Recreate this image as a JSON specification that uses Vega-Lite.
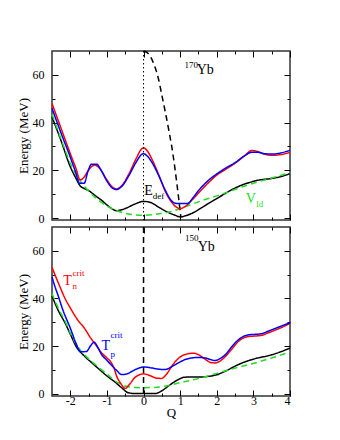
{
  "$schema": "https://vega.github.io/schema/vega-lite/v6.json",
  "padding": {"left": 16, "top": 47, "right": 5, "bottom": 5},
  "spacing": 0,
  "config": {
    "view": {"stroke": "#333333", "strokeWidth": 1.5},
    "font": "Liberation Serif",
    "axis": {"domain": false, "grid": false, "labelFont": "Liberation Serif", "labelFontSize": 12, "labelColor": "black", "titleFont": "Liberation Serif", "titleFontSize": 13, "titleFontWeight": "normal", "titleColor": "black", "tickColor": "black", "tickWidth": 1}
  },
  "datasets": {
    "top": [
      {"series":"E_def","Q":-2.5,"E":42.4},{"series":"E_def","Q":-2.25,"E":32.3},{"series":"E_def","Q":-2.0,"E":21.5},{"series":"E_def","Q":-1.85,"E":16.8},{"series":"E_def","Q":-1.73,"E":13.5},{"series":"E_def","Q":-1.6,"E":12.3},{"series":"E_def","Q":-1.5,"E":11.5},{"series":"E_def","Q":-1.3,"E":9.2},{"series":"E_def","Q":-1.15,"E":7.5},{"series":"E_def","Q":-0.9,"E":4.3},{"series":"E_def","Q":-0.74,"E":3.1},{"series":"E_def","Q":-0.5,"E":4.0},{"series":"E_def","Q":-0.25,"E":5.8},{"series":"E_def","Q":0,"E":7.0},{"series":"E_def","Q":0.2,"E":6.5},{"series":"E_def","Q":0.4,"E":4.7},{"series":"E_def","Q":0.7,"E":2.2},{"series":"E_def","Q":0.86,"E":1.2},{"series":"E_def","Q":1.0,"E":0.5},{"series":"E_def","Q":1.15,"E":1.0},{"series":"E_def","Q":1.32,"E":2.0},{"series":"E_def","Q":1.55,"E":4.0},{"series":"E_def","Q":1.77,"E":6.1},{"series":"E_def","Q":2.0,"E":8.2},{"series":"E_def","Q":2.23,"E":10.3},{"series":"E_def","Q":2.45,"E":12.2},{"series":"E_def","Q":2.68,"E":13.8},{"series":"E_def","Q":2.96,"E":15.2},{"series":"E_def","Q":3.14,"E":15.9},{"series":"E_def","Q":3.5,"E":16.6},{"series":"E_def","Q":3.75,"E":17.4},{"series":"E_def","Q":4.0,"E":18.6},
      {"series":"V_ld","Q":-2.5,"E":43.5},{"series":"V_ld","Q":-2.25,"E":33},{"series":"V_ld","Q":-2.0,"E":23},{"series":"V_ld","Q":-1.75,"E":16},{"series":"V_ld","Q":-1.5,"E":11.3},{"series":"V_ld","Q":-1.25,"E":7.8},{"series":"V_ld","Q":-1.0,"E":5.0},{"series":"V_ld","Q":-0.74,"E":3.2},{"series":"V_ld","Q":-0.5,"E":2.0},{"series":"V_ld","Q":-0.25,"E":1.4},{"series":"V_ld","Q":0,"E":1.2},{"series":"V_ld","Q":0.25,"E":1.4},{"series":"V_ld","Q":0.5,"E":2.0},{"series":"V_ld","Q":0.77,"E":2.8},{"series":"V_ld","Q":1.04,"E":4.2},{"series":"V_ld","Q":1.5,"E":6.8},{"series":"V_ld","Q":1.77,"E":8.2},{"series":"V_ld","Q":2.0,"E":9.3},{"series":"V_ld","Q":2.68,"E":13},{"series":"V_ld","Q":3.0,"E":14.6},{"series":"V_ld","Q":3.5,"E":16.8},{"series":"V_ld","Q":4.0,"E":19},
      {"series":"E_par","Q":0,"E":70},{"series":"E_par","Q":0.1,"E":69.3},{"series":"E_par","Q":0.2,"E":67.3},{"series":"E_par","Q":0.3,"E":63.8},{"series":"E_par","Q":0.4,"E":58.8},{"series":"E_par","Q":0.5,"E":51.5},{"series":"E_par","Q":0.6,"E":44},{"series":"E_par","Q":0.7,"E":36},{"series":"E_par","Q":0.77,"E":30},{"series":"E_par","Q":0.86,"E":20.5},{"series":"E_par","Q":0.95,"E":9.5},{"series":"E_par","Q":1.02,"E":0.3},
      {"series":"T_n","Q":-2.5,"E":48},{"series":"T_n","Q":-2.25,"E":37.5},{"series":"T_n","Q":-2.0,"E":27},{"series":"T_n","Q":-1.85,"E":21},{"series":"T_n","Q":-1.73,"E":16},{"series":"T_n","Q":-1.62,"E":17.2},{"series":"T_n","Q":-1.5,"E":20.2},{"series":"T_n","Q":-1.4,"E":21.8},{"series":"T_n","Q":-1.33,"E":22.2},{"series":"T_n","Q":-1.2,"E":20.8},{"series":"T_n","Q":-1.0,"E":16},{"series":"T_n","Q":-0.85,"E":13},{"series":"T_n","Q":-0.74,"E":12.2},{"series":"T_n","Q":-0.6,"E":13.5},{"series":"T_n","Q":-0.4,"E":18.5},{"series":"T_n","Q":-0.2,"E":25},{"series":"T_n","Q":-0.05,"E":29},{"series":"T_n","Q":0,"E":29.4},{"series":"T_n","Q":0.1,"E":28.2},{"series":"T_n","Q":0.25,"E":24},{"series":"T_n","Q":0.4,"E":18.7},{"series":"T_n","Q":0.6,"E":11},{"series":"T_n","Q":0.8,"E":6},{"series":"T_n","Q":1.0,"E":4.0},{"series":"T_n","Q":1.15,"E":5},{"series":"T_n","Q":1.3,"E":7.2},{"series":"T_n","Q":1.5,"E":10.5},{"series":"T_n","Q":1.75,"E":14.5},{"series":"T_n","Q":2.0,"E":18},{"series":"T_n","Q":2.25,"E":20.5},{"series":"T_n","Q":2.5,"E":23},{"series":"T_n","Q":2.75,"E":26},{"series":"T_n","Q":2.96,"E":28.3},{"series":"T_n","Q":3.1,"E":28},{"series":"T_n","Q":3.3,"E":26.8},{"series":"T_n","Q":3.5,"E":26.3},{"series":"T_n","Q":3.75,"E":26.6},{"series":"T_n","Q":4.0,"E":27.5},
      {"series":"T_p","Q":-2.5,"E":46},{"series":"T_p","Q":-2.25,"E":35.5},{"series":"T_p","Q":-2.0,"E":25.5},{"series":"T_p","Q":-1.85,"E":19},{"series":"T_p","Q":-1.75,"E":14.6},{"series":"T_p","Q":-1.62,"E":14.6},{"series":"T_p","Q":-1.52,"E":19.5},{"series":"T_p","Q":-1.42,"E":22.6},{"series":"T_p","Q":-1.28,"E":22.6},{"series":"T_p","Q":-1.15,"E":19.8},{"series":"T_p","Q":-1.0,"E":15.5},{"series":"T_p","Q":-0.85,"E":12.6},{"series":"T_p","Q":-0.74,"E":12.0},{"series":"T_p","Q":-0.6,"E":13.2},{"series":"T_p","Q":-0.4,"E":17.8},{"series":"T_p","Q":-0.2,"E":23.5},{"series":"T_p","Q":-0.05,"E":26.7},{"series":"T_p","Q":0,"E":27.0},{"series":"T_p","Q":0.1,"E":26},{"series":"T_p","Q":0.25,"E":22.8},{"series":"T_p","Q":0.4,"E":18.3},{"series":"T_p","Q":0.6,"E":11.5},{"series":"T_p","Q":0.75,"E":7.5},{"series":"T_p","Q":0.85,"E":6.3},{"series":"T_p","Q":0.95,"E":6.1},{"series":"T_p","Q":1.2,"E":6.1},{"series":"T_p","Q":1.35,"E":8.5},{"series":"T_p","Q":1.5,"E":11.5},{"series":"T_p","Q":1.75,"E":15.5},{"series":"T_p","Q":2.0,"E":18.5},{"series":"T_p","Q":2.25,"E":21},{"series":"T_p","Q":2.5,"E":23.2},{"series":"T_p","Q":2.75,"E":26},{"series":"T_p","Q":2.96,"E":27.6},{"series":"T_p","Q":3.1,"E":27.6},{"series":"T_p","Q":3.3,"E":27},{"series":"T_p","Q":3.5,"E":26.8},{"series":"T_p","Q":3.75,"E":27.3},{"series":"T_p","Q":4.0,"E":28.4}
    ],
    "bot": [
      {"series":"E_def","Q":-2.5,"E":41},{"series":"E_def","Q":-2.3,"E":34},{"series":"E_def","Q":-2.16,"E":30.2},{"series":"E_def","Q":-2.0,"E":25},{"series":"E_def","Q":-1.84,"E":19.8},{"series":"E_def","Q":-1.61,"E":15.7},{"series":"E_def","Q":-1.4,"E":12.8},{"series":"E_def","Q":-1.15,"E":9.4},{"series":"E_def","Q":-0.95,"E":6.8},{"series":"E_def","Q":-0.79,"E":5},{"series":"E_def","Q":-0.6,"E":2.5},{"series":"E_def","Q":-0.42,"E":0.4},{"series":"E_def","Q":-0.2,"E":0},{"series":"E_def","Q":0,"E":0},{"series":"E_def","Q":0.31,"E":0},{"series":"E_def","Q":0.5,"E":1.2},{"series":"E_def","Q":0.68,"E":3.2},{"series":"E_def","Q":0.9,"E":5.5},{"series":"E_def","Q":1.13,"E":6.9},{"series":"E_def","Q":1.4,"E":7.0},{"series":"E_def","Q":1.59,"E":7.0},{"series":"E_def","Q":1.8,"E":7.3},{"series":"E_def","Q":1.95,"E":7.7},{"series":"E_def","Q":2.23,"E":9.4},{"series":"E_def","Q":2.59,"E":12.2},{"series":"E_def","Q":2.8,"E":13.5},{"series":"E_def","Q":3.05,"E":14.7},{"series":"E_def","Q":3.5,"E":16.3},{"series":"E_def","Q":3.75,"E":17.6},{"series":"E_def","Q":4.0,"E":19.1},
      {"series":"V_ld","Q":-2.5,"E":42},{"series":"V_ld","Q":-2.3,"E":35},{"series":"V_ld","Q":-2.16,"E":31},{"series":"V_ld","Q":-2.0,"E":25.5},{"series":"V_ld","Q":-1.84,"E":20.8},{"series":"V_ld","Q":-1.61,"E":16.3},{"series":"V_ld","Q":-1.3,"E":12},{"series":"V_ld","Q":-1.0,"E":8.2},{"series":"V_ld","Q":-0.7,"E":4.6},{"series":"V_ld","Q":-0.51,"E":3.2},{"series":"V_ld","Q":-0.25,"E":2.6},{"series":"V_ld","Q":0,"E":2.5},{"series":"V_ld","Q":0.3,"E":2.6},{"series":"V_ld","Q":0.68,"E":3.4},{"series":"V_ld","Q":1.0,"E":4.6},{"series":"V_ld","Q":1.59,"E":6.7},{"series":"V_ld","Q":1.95,"E":8.3},{"series":"V_ld","Q":2.5,"E":10.7},{"series":"V_ld","Q":3.05,"E":12.9},{"series":"V_ld","Q":3.5,"E":15},{"series":"V_ld","Q":4.0,"E":17.5},
      {"series":"T_n","Q":-2.5,"E":53},{"series":"T_n","Q":-2.3,"E":45.5},{"series":"T_n","Q":-2.16,"E":40.5},{"series":"T_n","Q":-2.0,"E":36},{"series":"T_n","Q":-1.8,"E":31},{"series":"T_n","Q":-1.61,"E":27.4},{"series":"T_n","Q":-1.45,"E":23.5},{"series":"T_n","Q":-1.33,"E":21},{"series":"T_n","Q":-1.15,"E":17.2},{"series":"T_n","Q":-1.0,"E":15},{"series":"T_n","Q":-0.88,"E":13},{"series":"T_n","Q":-0.8,"E":10.5},{"series":"T_n","Q":-0.74,"E":7.6},{"series":"T_n","Q":-0.62,"E":4.2},{"series":"T_n","Q":-0.5,"E":2.2},{"series":"T_n","Q":-0.4,"E":3.6},{"series":"T_n","Q":-0.24,"E":6.7},{"series":"T_n","Q":-0.1,"E":8.0},{"series":"T_n","Q":0,"E":8.3},{"series":"T_n","Q":0.1,"E":8.0},{"series":"T_n","Q":0.22,"E":7.3},{"series":"T_n","Q":0.35,"E":6.5},{"series":"T_n","Q":0.49,"E":6.4},{"series":"T_n","Q":0.62,"E":8.0},{"series":"T_n","Q":0.77,"E":11.5},{"series":"T_n","Q":0.9,"E":14},{"series":"T_n","Q":1.04,"E":15.8},{"series":"T_n","Q":1.2,"E":16.7},{"series":"T_n","Q":1.36,"E":17.0},{"series":"T_n","Q":1.52,"E":16.2},{"series":"T_n","Q":1.68,"E":14.5},{"series":"T_n","Q":1.85,"E":13.0},{"series":"T_n","Q":1.95,"E":12.9},{"series":"T_n","Q":2.1,"E":13.8},{"series":"T_n","Q":2.23,"E":15.5},{"series":"T_n","Q":2.4,"E":18.5},{"series":"T_n","Q":2.59,"E":21.9},{"series":"T_n","Q":2.75,"E":23.5},{"series":"T_n","Q":2.87,"E":24},{"series":"T_n","Q":3.05,"E":24.2},{"series":"T_n","Q":3.23,"E":24.5},{"series":"T_n","Q":3.4,"E":25.5},{"series":"T_n","Q":3.6,"E":26.7},{"series":"T_n","Q":3.8,"E":28},{"series":"T_n","Q":4.0,"E":29.5},
      {"series":"T_p","Q":-2.5,"E":49},{"series":"T_p","Q":-2.42,"E":45},{"series":"T_p","Q":-2.34,"E":41.5},{"series":"T_p","Q":-2.2,"E":35},{"series":"T_p","Q":-2.0,"E":27.5},{"series":"T_p","Q":-1.84,"E":21},{"series":"T_p","Q":-1.72,"E":17.6},{"series":"T_p","Q":-1.56,"E":17.7},{"series":"T_p","Q":-1.45,"E":20},{"series":"T_p","Q":-1.35,"E":21.6},{"series":"T_p","Q":-1.25,"E":19.5},{"series":"T_p","Q":-1.15,"E":16.5},{"series":"T_p","Q":-1.0,"E":14},{"series":"T_p","Q":-0.88,"E":12},{"series":"T_p","Q":-0.72,"E":9.5},{"series":"T_p","Q":-0.6,"E":8.0},{"series":"T_p","Q":-0.47,"E":8.2},{"series":"T_p","Q":-0.3,"E":9.5},{"series":"T_p","Q":-0.15,"E":10.6},{"series":"T_p","Q":0,"E":11.2},{"series":"T_p","Q":0.22,"E":10.8},{"series":"T_p","Q":0.4,"E":10.3},{"series":"T_p","Q":0.58,"E":10.1},{"series":"T_p","Q":0.77,"E":11.3},{"series":"T_p","Q":0.95,"E":12.9},{"series":"T_p","Q":1.15,"E":14.4},{"series":"T_p","Q":1.32,"E":15},{"series":"T_p","Q":1.5,"E":15.2},{"series":"T_p","Q":1.68,"E":15},{"series":"T_p","Q":1.85,"E":14.2},{"series":"T_p","Q":1.95,"E":13.9},{"series":"T_p","Q":2.1,"E":14.8},{"series":"T_p","Q":2.23,"E":16.3},{"series":"T_p","Q":2.4,"E":19.5},{"series":"T_p","Q":2.59,"E":22.6},{"series":"T_p","Q":2.75,"E":24.2},{"series":"T_p","Q":2.87,"E":24.7},{"series":"T_p","Q":3.05,"E":24.9},{"series":"T_p","Q":3.23,"E":25.2},{"series":"T_p","Q":3.4,"E":26.2},{"series":"T_p","Q":3.6,"E":27.4},{"series":"T_p","Q":3.8,"E":28.6},{"series":"T_p","Q":4.0,"E":29.8}
    ],
    "top_ann": [
      {"label":"170","Q":1.12,"E":64.3,"series":"E_def","kind":"small"},
      {"label":"Yb","Q":1.45,"E":61.9,"series":"E_def","kind":"big"},
      {"label":"E","Q":0.02,"E":11.4,"series":"E_def","kind":"big"},
      {"label":"def","Q":0.25,"E":9.1,"series":"E_def","kind":"small"},
      {"label":"V","Q":2.79,"E":8.2,"series":"V_ld","kind":"big"},
      {"label":"ld","Q":3.08,"E":6.1,"series":"V_ld","kind":"small"}
    ],
    "bot_ann": [
      {"label":"150","Q":1.13,"E":65.5,"series":"E_def","kind":"small"},
      {"label":"Yb","Q":1.48,"E":61.5,"series":"E_def","kind":"big"},
      {"label":"T","Q":-2.19,"E":47.5,"series":"T_n","kind":"big"},
      {"label":"n","Q":-1.94,"E":45.3,"series":"T_n","kind":"small"},
      {"label":"crit","Q":-1.94,"E":50.8,"series":"T_n","kind":"small"},
      {"label":"T","Q":-1.15,"E":19.8,"series":"T_p","kind":"big"},
      {"label":"p","Q":-0.9,"E":16.8,"series":"T_p","kind":"small"},
      {"label":"crit","Q":-0.9,"E":24.5,"series":"T_p","kind":"small"}
    ]
  },
  "vconcat": [
    {
      "width": 238, "height": 169,
      "layer": [
        {
          "data": {"name": "top"},
          "mark": {"type": "line", "strokeWidth": 1.5, "interpolate": "monotone"},
          "encoding": {
            "x": {"field": "Q", "type": "quantitative", "scale": {"domain": [-2.5, 4], "nice": false, "zero": false},
                  "axis": {"orient": "bottom", "values": [-2,-1.5,-1,-0.5,0,0.5,1,1.5,2,2.5,3,3.5,4], "tickSize": {"condition": {"test": "datum.value % 1 !== 0", "value": -3}, "value": -6}, "labels": false, "title": null}},
            "y": {"field": "E", "type": "quantitative", "scale": {"domain": [-0.8, 70], "nice": false, "zero": false},
                  "axis": {"orient": "left", "values": [0,10,20,30,40,50,60], "tickSize": {"condition": {"test": "datum.value % 20 !== 0", "value": -3}, "value": -6}, "labelExpr": "datum.value % 20 === 0 ? '' + datum.value : ''", "title": "Energy (MeV)", "labelPadding": 14, "titlePadding": 2}},
            "color": {"field": "series", "type": "nominal", "legend": null, "scale": {"domain": ["E_def","T_n","T_p","V_ld","E_par"], "range": ["#000000","#ff0000","#0000ff","#22dd22","#000000"]}},
            "strokeDash": {"field": "series", "type": "nominal", "legend": null, "scale": {"domain": ["E_def","T_n","T_p","V_ld","E_par"], "range": [[1,0],[1,0],[1,0],[6,4],[6,4]]}}
          }
        },
        {
          "data": {"values": [{"v": 0}]},
          "mark": {"type": "rule", "strokeDash": [1.5, 2.5], "color": "black", "strokeWidth": 1},
          "encoding": {"x": {"datum": 0, "type": "quantitative", "axis": null}}
        },
        {
          "data": {"name": "top_ann"},
          "mark": {"type": "text", "align": "left", "baseline": "middle", "font": "Liberation Serif"},
          "encoding": {
            "x": {"field": "Q", "type": "quantitative",
                  "axis": {"orient": "top", "values": [-2,-1.5,-1,-0.5,0,0.5,1,1.5,2,2.5,3,3.5,4], "tickSize": {"condition": {"test": "datum.value % 1 !== 0", "value": -3}, "value": -6}, "labels": false, "title": null}},
            "y": {"field": "E", "type": "quantitative",
                  "axis": {"orient": "right", "values": [0,10,20,30,40,50,60], "tickSize": {"condition": {"test": "datum.value % 20 !== 0", "value": -3}, "value": -6}, "labels": false, "title": null}},
            "text": {"field": "label"},
            "color": {"field": "series", "type": "nominal", "legend": null, "scale": {"domain": ["E_def","T_n","T_p","V_ld","E_par"], "range": ["#000000","#ff0000","#0000ff","#22dd22","#000000"]}},
            "size": {"field": "kind", "type": "ordinal", "legend": null, "scale": {"domain": ["big","small"], "range": [14, 9]}}
          }
        }
      ],
      "resolve": {"axis": {"x": "independent", "y": "independent"}}
    },
    {
      "width": 238, "height": 169,
      "layer": [
        {
          "data": {"name": "bot"},
          "mark": {"type": "line", "strokeWidth": 1.5, "interpolate": "monotone"},
          "encoding": {
            "x": {"field": "Q", "type": "quantitative", "scale": {"domain": [-2.5, 4], "nice": false, "zero": false},
                  "axis": {"orient": "bottom", "values": [-2,-1.5,-1,-0.5,0,0.5,1,1.5,2,2.5,3,3.5,4], "tickSize": {"condition": {"test": "datum.value % 1 !== 0", "value": -3}, "value": -6}, "labelExpr": "datum.value % 1 === 0 ? '' + datum.value : ''", "title": "Q", "labelPadding": 5, "titlePadding": 0}},
            "y": {"field": "E", "type": "quantitative", "scale": {"domain": [-1, 70], "nice": false, "zero": false},
                  "axis": {"orient": "left", "values": [0,10,20,30,40,50,60], "tickSize": {"condition": {"test": "datum.value % 20 !== 0", "value": -3}, "value": -6}, "labelExpr": "datum.value % 20 === 0 ? '' + datum.value : ''", "title": "Energy (MeV)", "labelPadding": 14, "titlePadding": 2}},
            "color": {"field": "series", "type": "nominal", "legend": null, "scale": {"domain": ["E_def","T_n","T_p","V_ld","E_par"], "range": ["#000000","#ff0000","#0000ff","#22dd22","#000000"]}},
            "strokeDash": {"field": "series", "type": "nominal", "legend": null, "scale": {"domain": ["E_def","T_n","T_p","V_ld","E_par"], "range": [[1,0],[1,0],[1,0],[6,4],[6,4]]}}
          }
        },
        {
          "data": {"values": [{"v": 0}]},
          "mark": {"type": "rule", "strokeDash": [6, 4], "color": "black", "strokeWidth": 1.5},
          "encoding": {"x": {"datum": 0, "type": "quantitative", "axis": null}}
        },
        {
          "data": {"name": "bot_ann"},
          "mark": {"type": "text", "align": "left", "baseline": "middle", "font": "Liberation Serif"},
          "encoding": {
            "x": {"field": "Q", "type": "quantitative",
                  "axis": {"orient": "top", "values": [-2,-1.5,-1,-0.5,0,0.5,1,1.5,2,2.5,3,3.5,4], "tickSize": {"condition": {"test": "datum.value % 1 !== 0", "value": -3}, "value": -6}, "labels": false, "title": null}},
            "y": {"field": "E", "type": "quantitative",
                  "axis": {"orient": "right", "values": [0,10,20,30,40,50,60], "tickSize": {"condition": {"test": "datum.value % 20 !== 0", "value": -3}, "value": -6}, "labels": false, "title": null}},
            "text": {"field": "label"},
            "color": {"field": "series", "type": "nominal", "legend": null, "scale": {"domain": ["E_def","T_n","T_p","V_ld","E_par"], "range": ["#000000","#ff0000","#0000ff","#22dd22","#000000"]}},
            "size": {"field": "kind", "type": "ordinal", "legend": null, "scale": {"domain": ["big","small"], "range": [14, 9]}}
          }
        }
      ],
      "resolve": {"axis": {"x": "independent", "y": "independent"}}
    }
  ]
}
